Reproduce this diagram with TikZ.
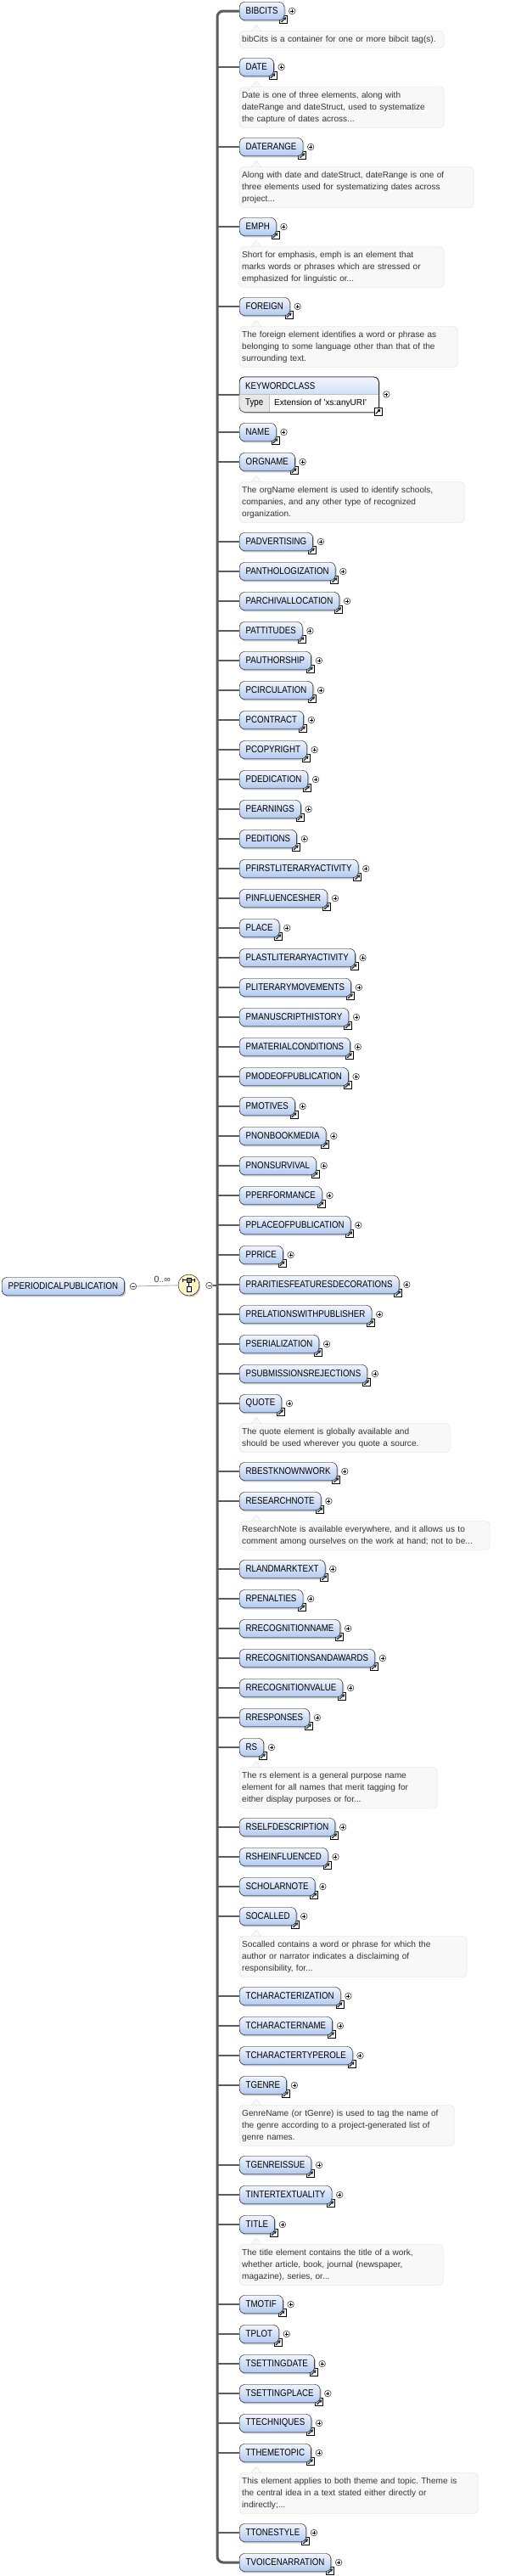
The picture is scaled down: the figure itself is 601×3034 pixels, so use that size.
\documentclass[tikz,border=0pt]{standalone}
\usepackage{fontspec}
\setmainfont{Liberation Sans}
\newfontfamily\elfamily{Liberation Sans}[FakeStretch=0.86]
\usetikzlibrary{shadows, arrows.meta}
\frenchspacing
\newcommand{\elfont}{\elfamily\fontsize{11.3}{13}\selectfont}
\newcommand{\docfont}{\fontsize{10.1}{14}\selectfont}
\definecolor{elTop}{RGB}{240,245,253}
\definecolor{elBot}{RGB}{178,202,240}
\definecolor{docFill}{RGB}{248,248,248}
\definecolor{docLine}{RGB}{222,222,222}
\definecolor{docText}{RGB}{51,51,51}
\definecolor{compFill}{RGB}{252,246,200}
\definecolor{spineGray}{RGB}{92,92,92}
\tikzset{
	elbase/.style = {rectangle, rounded corners = 6pt, draw = black, top color = elTop, bottom color = elBot, font = \elfont, text = black, minimum height = 21pt, inner xsep = 7.5pt, inner ysep = 0pt, anchor = west, drop shadow = {shadow xshift = 1.5pt, shadow yshift = -1.8pt, fill = black!50, opacity = .5}},
	elem/.style = {elbase, append after command = {\pgfextra{\edef\elname{\tikzlastnode}\path (\elname.south east) pic {linkicon}; \path (\elname.east) pic {plusbtn};}}},
	docfield/.style = {rectangle, rounded corners = 5pt, draw = docLine, fill = docFill, text = docText, font = \docfont, align = left, anchor = west, inner xsep = 3pt, inner ysep = 0pt,
		append after command = {\pgfextra{\edef\docname{\tikzlastnode}\fill [docFill] ([xshift = 14pt, yshift = -.7pt]\docname.north west) -- ++(6pt,7.7pt) -- ++(6pt,-7.7pt) -- cycle; \draw [docLine] ([xshift = 14pt]\docname.north west) -- ++(6pt,7pt) -- ++(6pt,-7pt);}}},
	minusbtn/.style = {circle, draw = black!75, fill = white, line width = .6pt, minimum size = 7.6pt, inner sep = 0pt, path picture = {\draw [line width = .6pt] ([xshift = 1.8pt]path picture bounding box.west) -- ([xshift = -1.8pt]path picture bounding box.east);}},
	comp/.style = {circle, draw = black, fill = compFill, minimum size = 25pt, inner sep = 0pt, drop shadow = {shadow xshift = 1.2pt, shadow yshift = -1.5pt, fill = black!50, opacity = .5}},
	spine/.style = {draw = spineGray, line width = 3pt, rounded corners = 7pt},
	branch/.style = {draw = spineGray, line width = 2pt},
	occurs/.style = {draw = black!35, line width = .8pt},
	linkicon/.pic = {
		\draw [fill = white, line width = .8pt] (-5.5pt,-4pt) rectangle (3.5pt,5pt);
		\draw [line width = 1.2pt, -{Triangle[length = 3.2pt, width = 3.8pt]}] (-3.6pt,-2.1pt) -- (1.9pt,3.4pt);
	},
	plusbtn/.pic = {
		\draw [fill = white, draw = black!75, line width = .6pt] (9pt,0pt) circle (3.8pt);
		\draw [line width = .6pt] (7pt,0pt) -- (11pt,0pt) (9pt,-2pt) -- (9pt,2pt);
	}
}

\begin{document}
\begin{tikzpicture}[x = 1pt, y = -1pt]
	\fill [white] (0,0) rectangle (601,3034);
	\useasboundingbox (0,0) rectangle (601,3034);

	%% root and sequence
	\node (PPERIODICALPUBLICATION) [elbase] at (2,1515) {PPERIODICALPUBLICATION};
	\node (rootminus) [minusbtn] at (157,1515) {};
	\node (seq) [comp] at (222.5,1513.5) {};
	\node (seqminus) [minusbtn] at (246.5,1514) {};
	\draw [line width = .7pt] ([xshift = -7pt, yshift = 6pt]seq.center) -- ++(14pt,0pt)
		([xshift = -7pt, yshift = 8pt]seq.center) -- ++(0pt,-4pt)
		([xshift = 7pt, yshift = 8pt]seq.center) -- ++(0pt,-4pt)
		([yshift = 3.3pt]seq.center) -- ([yshift = -1.9pt]seq.center);
	\draw [fill = black!45, line width = .5pt] ([xshift = -2.7pt, yshift = 3.3pt]seq.center) rectangle ++(5.4pt,5.4pt);
	\draw [fill = white, line width = .6pt] ([xshift = -2.7pt, yshift = -7.3pt]seq.center) rectangle ++(5.4pt,5.4pt);

	%% first and last child, spine
	\coordinate (spinebot) at (256,3018);
	\node (BIBCITS) [elem] at (282,13) {BIBCITS};
	\node (TVOICENARRATION) [elem] at (282,3018) {TVOICENARRATION};
	\draw [spine] (BIBCITS.west) -| (spinebot) -- (TVOICENARRATION.west);

	%% keywordclass
	\node (KEYWORDCLASS) [elbase, minimum width = 164pt, minimum height = 41pt] at (282,464.5) {};
	\begin{scope}
		\clip [rounded corners = 6pt] (KEYWORDCLASS.north west) rectangle (KEYWORDCLASS.south east);
		\fill [black!2] (KEYWORDCLASS.west) rectangle (KEYWORDCLASS.south east);
		\fill [black!9] (KEYWORDCLASS.west) rectangle (317,486);
	\end{scope}
	\draw [black!25] (KEYWORDCLASS.west) -- (KEYWORDCLASS.east) (317,464.5) -- (317,485);
	\draw [rounded corners = 6pt] (KEYWORDCLASS.north west) rectangle (KEYWORDCLASS.south east);
	\path (KEYWORDCLASS.south east) pic {linkicon};
	\path (KEYWORDCLASS.east) pic {plusbtn};
	\node (kwtitle) [anchor = west, font = \elfont, inner sep = 0pt] at (289,454.5) {KEYWORDCLASS};
	\node (kwtype) [anchor = west, font = \elfont, inner sep = 0pt] at (289,475) {Type};
	\node (kwbase) [anchor = west, font = \docfont, inner sep = 0pt] at (323,475) {Extension of \textquotesingle xs:anyURI\textquotesingle};

	%% children
	\foreach \n/\y in {DATE/79, DATERANGE/173, EMPH/267, FOREIGN/361, NAME/509, ORGNAME/544,
		PADVERTISING/638, PANTHOLOGIZATION/673, PARCHIVALLOCATION/708, PATTITUDES/743,
		PAUTHORSHIP/778, PCIRCULATION/813, PCONTRACT/848, PCOPYRIGHT/883, PDEDICATION/918,
		PEARNINGS/953, PEDITIONS/988, PFIRSTLITERARYACTIVITY/1023, PINFLUENCESHER/1058,
		PLACE/1093, PLASTLITERARYACTIVITY/1128, PLITERARYMOVEMENTS/1163, PMANUSCRIPTHISTORY/1198,
		PMATERIALCONDITIONS/1233, PMODEOFPUBLICATION/1268, PMOTIVES/1303, PNONBOOKMEDIA/1338,
		PNONSURVIVAL/1373, PPERFORMANCE/1408, PPLACEOFPUBLICATION/1443, PPRICE/1478,
		PRARITIESFEATURESDECORATIONS/1513, PRELATIONSWITHPUBLISHER/1548, PSERIALIZATION/1583,
		PSUBMISSIONSREJECTIONS/1618, QUOTE/1653, RBESTKNOWNWORK/1733, RESEARCHNOTE/1768,
		RLANDMARKTEXT/1848, RPENALTIES/1883, RRECOGNITIONNAME/1918, RRECOGNITIONSANDAWARDS/1953,
		RRECOGNITIONVALUE/1988, RRESPONSES/2023, RS/2058, RSELFDESCRIPTION/2152,
		RSHEINFLUENCED/2187, SCHOLARNOTE/2222, SOCALLED/2257, TCHARACTERIZATION/2351,
		TCHARACTERNAME/2386, TCHARACTERTYPEROLE/2421, TGENRE/2456, TGENREISSUE/2550,
		TINTERTEXTUALITY/2585, TITLE/2620, TMOTIF/2714, TPLOT/2749, TSETTINGDATE/2784,
		TSETTINGPLACE/2819, TTECHNIQUES/2854, TTHEMETOPIC/2889, TTONESTYLE/2983}
	{
		\node (\n) [elem] at (282,\y) {\n};
		\draw [branch] (\n.west) -- (\n.west -| spinebot);
	}
	\draw [branch] (KEYWORDCLASS.west) -- (KEYWORDCLASS.west -| spinebot);

	%% annotations
	\node (docBIBCITS) [docfield, text width = 235pt, minimum height = 20pt] at (282,46.5) {bibCits is a container for one or more bibcit tag(s).};
	\node (docDATE) [docfield, text width = 235pt, minimum height = 48pt] at (282,126.5) {Date is one of three elements, along with\\dateRange and dateStruct, used to systematize\\the capture of dates across...};
	\node (docDATERANGE) [docfield, text width = 270pt, minimum height = 48pt] at (282,220.5) {Along with date and dateStruct, dateRange is one of\\three elements used for systematizing dates across\\project...};
	\node (docEMPH) [docfield, text width = 235pt, minimum height = 48pt] at (282,314.5) {Short for emphasis, emph is an element that\\marks words or phrases which are stressed or\\emphasized for linguistic or...};
	\node (docFOREIGN) [docfield, text width = 251pt, minimum height = 48pt] at (282,408.5) {The foreign element identifies a word or phrase as\\belonging to some language other than that of the\\surrounding text.};
	\node (docORGNAME) [docfield, text width = 259pt, minimum height = 48pt] at (282,591.5) {The orgName element is used to identify schools,\\companies, and any other type of recognized\\organization.};
	\node (docQUOTE) [docfield, text width = 242pt, minimum height = 34pt] at (282,1693.5) {The quote element is globally available and\\should be used wherever you quote a source.};
	\node (docRESEARCHNOTE) [docfield, text width = 289pt, minimum height = 34pt] at (282,1808.5) {ResearchNote is available everywhere, and it allows us to\\comment among ourselves on the work at hand; not to be...};
	\node (docRS) [docfield, text width = 227pt, minimum height = 48pt] at (282,2105.5) {The rs element is a general purpose name\\element for all names that merit tagging for\\either display purposes or for...};
	\node (docSOCALLED) [docfield, text width = 262pt, minimum height = 48pt] at (282,2304.5) {Socalled contains a word or phrase for which the\\author or narrator indicates a disclaiming of\\responsibility, for...};
	\node (docTGENRE) [docfield, text width = 247pt, minimum height = 48pt] at (282,2503.5) {GenreName (or tGenre) is used to tag the name of\\the genre according to a project-generated list of\\genre names.};
	\node (docTITLE) [docfield, text width = 234pt, minimum height = 48pt] at (282,2667.5) {The title element contains the title of a work,\\whether article, book, journal (newspaper,\\magazine), series, or...};
	\node (docTTHEMETOPIC) [docfield, text width = 275pt, minimum height = 48pt] at (282,2936.5) {This element applies to both theme and topic. Theme is\\the central idea in a text stated either directly or\\indirectly;...};

	%% arrows
	\draw [occurs] (rootminus) -- node [pos = .62, above = -.5pt, font = \fontsize{10.5}{12}\selectfont, text = black!80] {0..∞} (seq);
	\draw [branch] (seqminus) -- (seqminus -| spinebot);
\end{tikzpicture}
\end{document}
